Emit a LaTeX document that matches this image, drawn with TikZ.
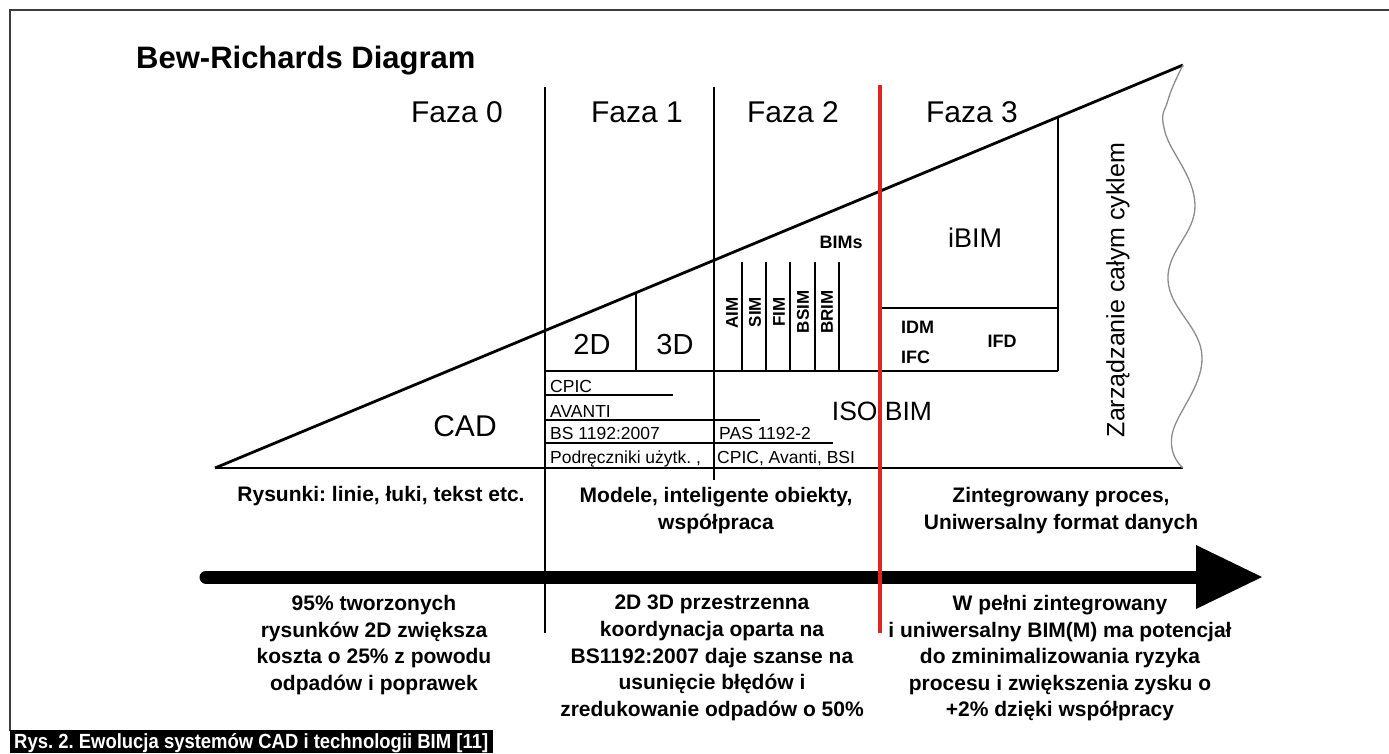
\documentclass[tikz,border=0pt]{standalone}
\usepackage{fontspec}
\usepackage{graphicx}
\setmainfont{Liberation Sans}
\frenchspacing
\definecolor{redline}{RGB}{224,36,36}
\definecolor{wavegray}{RGB}{140,140,140}
\definecolor{framegray}{RGB}{60,60,60}
\newcommand{\fsz}[2]{\fontsize{#1}{#2}\selectfont}
\begin{document}
\frenchspacing
\begin{tikzpicture}[x=1pt,y=-1pt,
  mainln/.style={line width=2.8pt, black},
  vln/.style={line width=2.5pt, black},
  tln/.style={line width=2.2pt, black},
  lbl/.style={inner sep=0pt, anchor=base},
  faza/.style={lbl, font=\fsz{30}{30}},
  big/.style={lbl, font=\fsz{29}{29}},
  smallb/.style={lbl, font=\fsz{18}{18}\bfseries},
  tab/.style={lbl, anchor=base west, font=\fsz{17.5}{17.5}},
  rot/.style={inner sep=0pt, anchor=center, rotate=90, font=\fsz{17}{17}\bfseries},
  desc/.style={inner sep=0pt, anchor=north, align=center, font=\fsz{21}{26.6}\bfseries}
]
\useasboundingbox (0,0) rectangle (1389,753);

% frame
\draw[framegray, line width=1.5pt] (10,731) -- (10,10) -- (1389,10);

% key points
\coordinate (A) at (215,468);
\coordinate (T) at (1183,65);
\coordinate (E) at (1183,468);

% arrow (behind lines)
\coordinate (arrL) at (206,577);
\coordinate (arrM) at (1198,577);
\coordinate (arrR) at (1262,577);
\draw[line width=13pt, line cap=round] (arrL) -- (arrM);
\fill (1196,545) -- (arrR) -- (1196,609) -- cycle;

% triangle
\draw[mainln] (A) -- (T);
\draw[mainln] (A) -- (E);

% wavy right edge
\draw[wavegray, line width=1.3pt] plot[smooth, tension=0.7] coordinates
  {(1183,65) (1168,100) (1165,132) (1195,205) (1168,280) (1202,357) (1172,435) (1183,468)};

% phase dividers
\coordinate (v1t) at (545,87);  \coordinate (v1b) at (545,633);
\coordinate (v2t) at (714,87);  \coordinate (v2b) at (714,480);
\draw[vln] (v1t) -- (v1b);
\draw[vln] (v2t) -- (v2b);

% 2D / 3D
\coordinate (d23t) at (636,292.7); \coordinate (d23b) at (636,371);
\draw[tln] (d23t) -- (d23b);
\coordinate (h1l) at (545,371); \coordinate (h1r) at (1058,371);
\draw[tln] (h1l) -- (h1r);

% table lines
\draw[tln] (545,395) -- (673,395);
\draw[tln] (545,420) -- (760,420);
\draw[tln] (545,443) -- (833,443);

% BIMs verticals
\foreach \xx/\nm in {742/b1,766/b2,790/b3,815/b4,839/b5}{
  \coordinate (\nm t) at (\xx,262);
  \coordinate (\nm b) at (\xx,371);
  \draw[tln] (\nm t) -- (\nm b);
}

% iBIM box
\coordinate (bxt) at (1058,117); \coordinate (bxb) at (1058,371);
\draw[tln] (bxt) -- (bxb);
\draw[tln] (880,308) -- (1058,308);

% red line
\coordinate (rt) at (880,85); \coordinate (rb) at (880,633);
\draw[redline, line width=4pt] (rt) -- (rb);

% texts
\node[lbl, anchor=base west, font=\fsz{31}{31}\bfseries] (title) at (136,68) {Bew-Richards Diagram};
\node[faza] (f0) at (457,122) {Faza 0};
\node[faza] (f1) at (637,122) {Faza 1};
\node[faza] (f2) at (793,122) {Faza 2};
\node[faza] (f3) at (972,122) {Faza 3};

\node[faza] (cad) at (465,436) {CAD};
\node[big] (d2) at (592,354) {2D};
\node[big] (d3) at (675,354) {3D};

\node[rot] (aim) at (732,313) {AIM};
\node[rot] (sim) at (755,312) {SIM};
\node[rot] (fim) at (779,312) {FIM};
\node[rot] (bsim) at (803,312) {BSIM};
\node[rot] (brim) at (827,312) {BRIM};
\node[smallb] (bims) at (841,248) {BIMs};

\node[lbl, font=\fsz{27}{27}] (ibim) at (975,247) {iBIM};
\node[smallb, anchor=base west] (idm) at (901,333) {IDM};
\node[smallb, anchor=base west] (ifc) at (901,363) {IFC};
\node[smallb] (ifd) at (1002,347) {IFD};
\node[lbl, font=\fsz{26.5}{26.5}] (iso) at (882,420) {ISO BIM};

\node[inner sep=0pt, anchor=center, rotate=90, font=\fsz{25}{25}] (zarz) at (1118,290) {Zarządzanie całym cyklem};

\node[tab] (t1) at (550,392) {CPIC};
\node[tab] (t2) at (550,417) {AVANTI};
\node[tab] (t3) at (550,439) {BS 1192:2007};
\node[tab] (t4) at (550,463) {Podręczniki użytk. ,};
\node[tab] (t5) at (719,439) {PAS 1192-2};
\node[tab] (t6) at (717,463) {CPIC, Avanti, BSI};

% descriptions
\node[desc] (r0) at (381,486) {Rysunki: linie, łuki, tekst etc.};
\node[desc] (r1) at (716,487) {Modele, inteligente obiekty,\\współpraca};
\node[desc] (r2) at (1061,487) {Zintegrowany proces,\\Uniwersalny format danych};

\node[desc] (c0) at (374,595) {95\% tworzonych\\rysunków 2D zwiększa\\koszta o 25\% z powodu\\odpadów i poprawek};
\node[desc] (c1) at (712,595) {2D 3D przestrzenna\\koordynacja oparta na\\BS1192:2007 daje szanse na\\usunięcie błędów i\\zredukowanie odpadów o 50\%};
\node[desc] (c2) at (1060,595) {W pełni zintegrowany\\i uniwersalny BIM(M) ma potencjał\\do zminimalizowania ryzyka\\procesu i zwiększenia zysku o\\+2\% dzięki współpracy};

% caption
\fill[black] (10,730) rectangle (493,753);
\node[inner sep=0pt, anchor=base west, text=white] (cap) at (14,748)
  {\resizebox{474pt}{\height}{\fsz{20.5}{20.5}\bfseries Rys. 2. Ewolucja systemów CAD i technologii BIM [11]}};
\end{tikzpicture}
\end{document}
